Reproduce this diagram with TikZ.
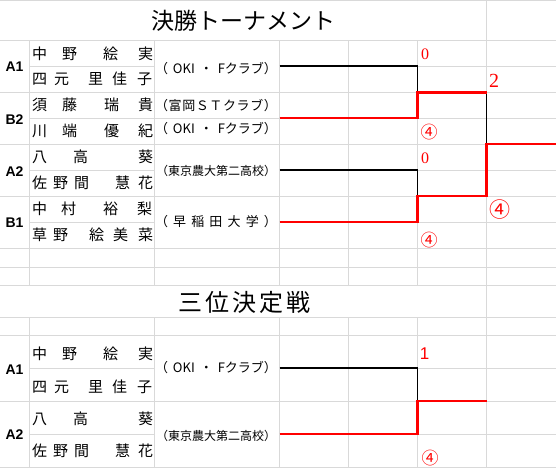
\documentclass[tikz,border=0pt]{standalone}
\usepackage{fontspec}
\setmainfont{Noto Sans CJK JP}
\newfontfamily\lblfont{Liberation Sans}
\newfontfamily\numfont{Liberation Serif}
\definecolor{gridgray}{RGB}{217,217,217}
\newcommand\gp[1]{\hspace{#1pt}}

\begin{document}
\begin{tikzpicture}[x=1pt, y=-1pt, every node/.style={inner sep=0pt},
  grid/.style={draw=gridgray, line width=0.9pt},
  ttl/.style={font=\fontsize{23}{23}\selectfont},
  lbl/.style={font=\lblfont\bfseries\fontsize{14}{14}\selectfont},
  nm/.style={anchor=west, font=\fontsize{15}{15}\selectfont},
  club/.style={font=\fontsize{13}{13}\selectfont},
  lose/.style={draw=black, line width=1.5pt},
  win/.style={draw=red, line width=2.5pt},
  score/.style={text=red, font=\numfont\fontsize{16}{16}\selectfont},
  circ/.style={text=red, font=\fontsize{17}{17}\selectfont}]
\useasboundingbox (0,0) rectangle (556,468);
% sheet grid, rows
\draw[grid] (0,0.5) -- (556,0.5);
\draw[grid] (0,40.5) -- (556,40.5);
\draw[grid] (29.5,66) -- (154.5,66) (279.5,66) -- (556,66);
\draw[grid] (0,92.5) -- (556,92.5);
\draw[grid] (29.5,118) -- (556,118);
\draw[grid] (0,144) -- (556,144);
\draw[grid] (29.5,170) -- (154.5,170) (279.5,170) -- (556,170);
\draw[grid] (0,196) -- (556,196);
\draw[grid] (29.5,222) -- (154.5,222) (279.5,222) -- (556,222);
\draw[grid] (0,248) -- (556,248);
\draw[grid] (0,267) -- (556,267);
\draw[grid] (0,285) -- (556,285);
\draw[grid] (0,317) -- (556,317);
\draw[grid] (0,335) -- (556,335);
\draw[grid] (29.5,368) -- (154.5,368) (279.5,368) -- (556,368);
\draw[grid] (0,401) -- (556,401);
\draw[grid] (29.5,434) -- (154.5,434) (279.5,434) -- (556,434);
\draw[grid] (0,467) -- (556,467);
% sheet grid, columns
\draw[grid] (29.5,40.5) -- (29.5,285) (29.5,317) -- (29.5,467);
\draw[grid] (154.5,40.5) -- (154.5,285) (154.5,317) -- (154.5,467);
\draw[grid] (279.5,40.5) -- (279.5,285) (279.5,317) -- (279.5,467);
\draw[grid] (348,40.5) -- (348,285) (348,317) -- (348,467);
\draw[grid] (417.5,40.5) -- (417.5,285) (417.5,317) -- (417.5,467);
\draw[grid] (486.5,0) -- (486.5,467);
% titles
\node[ttl] (t1) at (243,21) {決勝トーナメント};
\node[ttl, font=\fontsize{24}{24}\selectfont] (t2) at (244,302) {\makebox[132pt][s]{三\hfill 位\hfill 決\hfill 定\hfill 戦}};
% seeds
\node[lbl] (lA1) at (14.5,67) {A1};
\node[lbl] (lB2) at (14.5,120) {B2};
\node[lbl] (lA2) at (14.5,172) {A2};
\node[lbl] (lB1) at (14.5,223) {B1};
\node[lbl] (kA1) at (14.5,370) {A1};
\node[lbl] (kA2) at (14.5,435) {A2};
% players
\node[nm] (nA1a) at (32,54) {中\gp{15}野\gp{26}絵\gp{20}実};
\node[nm] (nA1b) at (32,79) {四\gp{7}元\gp{19}里\gp{9}佳\gp{10}子};
\node[nm] (nB2a) at (32,105) {須\gp{15}藤\gp{27}瑞\gp{19}貴};
\node[nm] (nB2b) at (32,131) {川\gp{15}端\gp{27}優\gp{19}紀};
\node[nm] (nA2a) at (32,157) {八\gp{26}高\gp{50}葵};
\node[nm] (nA2b) at (32,183) {佐\gp{6}野\gp{6}間\gp{26}慧\gp{8}花};
\node[nm] (nB1a) at (32,209) {中\gp{14}村\gp{27}裕\gp{19}梨};
\node[nm] (nB1b) at (32,235) {草\gp{6}野\gp{21}絵\gp{9}美\gp{10}菜};
\node[nm] (mA1a) at (32,353.5) {中\gp{15}野\gp{26}絵\gp{20}実};
\node[nm] (mA1b) at (32,386.5) {四\gp{7}元\gp{19}里\gp{9}佳\gp{10}子};
\node[nm] (mA2a) at (32,418.5) {八\gp{26}高\gp{50}葵};
\node[nm] (mA2b) at (32,450.5) {佐\gp{6}野\gp{6}間\gp{26}慧\gp{8}花};
% clubs
\node[club] (cA1) at (216,69) {\makebox[122pt][s]{（\hfill OKI\hfill ・\hfill Fクラブ）}};
\node[club] (cB2a) at (216,106) {\makebox[122pt][s]{（\hfill 富\hfill 岡\hfill Ｓ\hfill Ｔ\hfill ク\hfill ラ\hfill ブ\hfill ）}};
\node[club] (cB2b) at (216,129) {\makebox[122pt][s]{（\hfill OKI\hfill ・\hfill Fクラブ）}};
\node[club, font=\fontsize{12}{12}\selectfont] (cA2) at (216,171) {（東京農大第二高校）};
\node[club] (cB1) at (216,222) {\makebox[122pt][s]{（\hfill 早\hfill 稲\hfill 田\hfill 大\hfill 学\hfill ）}};
\node[club] (dA1) at (216,368) {\makebox[122pt][s]{（\hfill OKI\hfill ・\hfill Fクラブ）}};
\node[club, font=\fontsize{12}{12}\selectfont] (dA2) at (216,436) {（東京農大第二高校）};
% bracket points
\coordinate (eA1) at (279.5,66);
\coordinate (eB2) at (279.5,118);
\coordinate (eA2) at (279.5,170);
\coordinate (eB1) at (279.5,222);
\coordinate (q1) at (417.5,92.5);
\coordinate (q1w) at (486.5,92.5);
\coordinate (q2) at (417.5,196);
\coordinate (fin) at (486.5,144);
\coordinate (champ) at (556,144);
\coordinate (eC1) at (279.5,368);
\coordinate (eC2) at (279.5,434);
\coordinate (q3) at (417.5,401);
\coordinate (third) at (486.5,401);
% losers
\draw[lose] (eA1) -| (q1);
\draw[lose] (eA2) -| (q2);
\draw[lose] (q1w) -- (fin);
\draw[lose] (eC1) -| (q3);
% winners
\draw[win] (eB2) -| (q1) -- (q1w);
\draw[win] (eB1) -| (q2) -| (fin) -- (champ);
\draw[win] (eC2) -| (q3) -- (third);
% scores
\node[score] (sA1) at (425,54.5) {0};
\node[circ] (sB2) at (429,132) {④};
\node[score] (sA2) at (425,158.5) {0};
\node[circ] (sB1) at (429,240) {④};
\node[score, font=\numfont\fontsize{20}{20}\selectfont] (sF1) at (494,81) {2};
\node[circ, font=\fontsize{21}{21}\selectfont] (sF2) at (500,210) {④};
\node[score, font=\lblfont\fontsize{17}{17}\selectfont] (sC1) at (424.5,354) {1};
\node[circ] (sC2) at (430,458) {④};
\end{tikzpicture}
\end{document}
